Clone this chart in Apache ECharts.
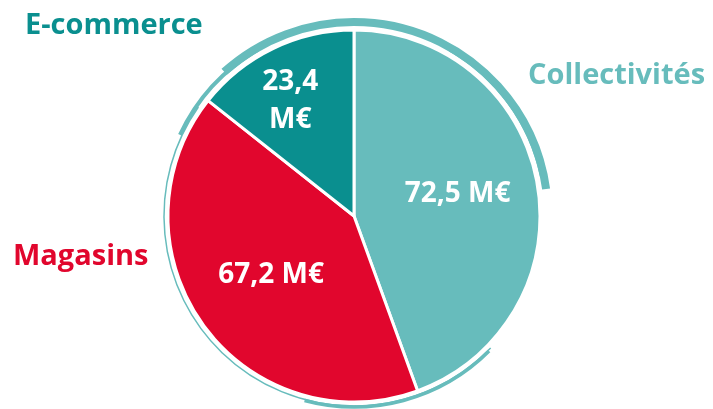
<!DOCTYPE html>
<html>
<head>
<meta charset="utf-8">
<script src="https://cdn.jsdelivr.net/npm/echarts@6/dist/echarts.min.js"></script>
<style>
  html, body { margin: 0; padding: 0; background: #fff; }
  #chart { width: 713px; height: 409px; }
</style>
</head>
<body>
<div id="chart"></div>
<script>
// données (M€)
const categories = ['Collectivités', 'Magasins', 'E-commerce'];
const values = [72.5, 67.2, 23.4];
const colors = ['#67bcbc', '#e1062d', '#0a8f8f'];

// position des libellés extérieurs
const nameSpots = [[528, 76], [13, 257], [25, 26]];
// décalage des valeurs dans les parts
const valueOffsets = [[9, -5], [-5, 3], [-22, -29]];

const cx = 354, cy = 216, r = 186;
const font = '"Open Sans", sans-serif';

function fmt(v) {
  return v.toFixed(1).replace('.', ',');
}

let chart = echarts.init(document.getElementById('chart'));

const deg = Math.PI / 180;
const ring = '#67bcbc';

chart.setOption({
  animation: false,
  series: [{
    type: 'pie',
    center: [cx, cy],
    radius: [0, r],
    startAngle: 90,
    clockwise: true,
    silent: true,
    itemStyle: { borderColor: '#fff', borderWidth: 3 },
    label: {
      position: 'inner',
      color: '#fff',
      fontFamily: font,
      fontWeight: 'bold',
      fontSize: 28,
      lineHeight: 38
    },
    labelLine: { show: false },
    data: categories.map((c, i) => ({
      name: c,
      value: values[i],
      itemStyle: { color: colors[i] },
      label: {
        offset: valueOffsets[i],
        formatter: i == 2 ? fmt(values[i]) + '\nM€' : fmt(values[i]) + ' M€'
      }
    }))
  }],
  graphic: [
    // trait décoratif autour du camembert
    { type: 'arc', silent: true,
      shape: { cx: cx, cy: cy, r: r + 6, startAngle: 205 * deg, endAngle: 240 * deg },
      style: { stroke: ring, lineWidth: 4, fill: null } },
    { type: 'arc', silent: true,
      shape: { cx: cx, cy: cy, r: r + 8, startAngle: 228 * deg, endAngle: 352 * deg },
      style: { stroke: ring, lineWidth: 8, fill: null } },
    { type: 'arc', silent: true,
      shape: { cx: cx, cy: cy, r: r + 5, startAngle: 300 * deg, endAngle: 348 * deg },
      style: { stroke: ring, lineWidth: 2, fill: null } },
    { type: 'arc', silent: true,
      shape: { cx: cx, cy: cy, r: r + 4, startAngle: 44 * deg, endAngle: 215 * deg },
      style: { stroke: ring, lineWidth: 1.5, fill: null } },
    { type: 'arc', silent: true,
      shape: { cx: cx, cy: cy, r: r + 5, startAngle: 45 * deg, endAngle: 105 * deg },
      style: { stroke: ring, lineWidth: 3.5, fill: null } }
  ].concat(categories.map((c, i) => ({
    type: 'text',
    x: nameSpots[i][0],
    y: nameSpots[i][1],
    silent: true,
    style: {
      text: c,
      fill: colors[i],
      font: 'bold 29px ' + font,
      textAlign: 'left',
      textVerticalAlign: 'middle'
    }
  })))
});
</script>
</body>
</html>
